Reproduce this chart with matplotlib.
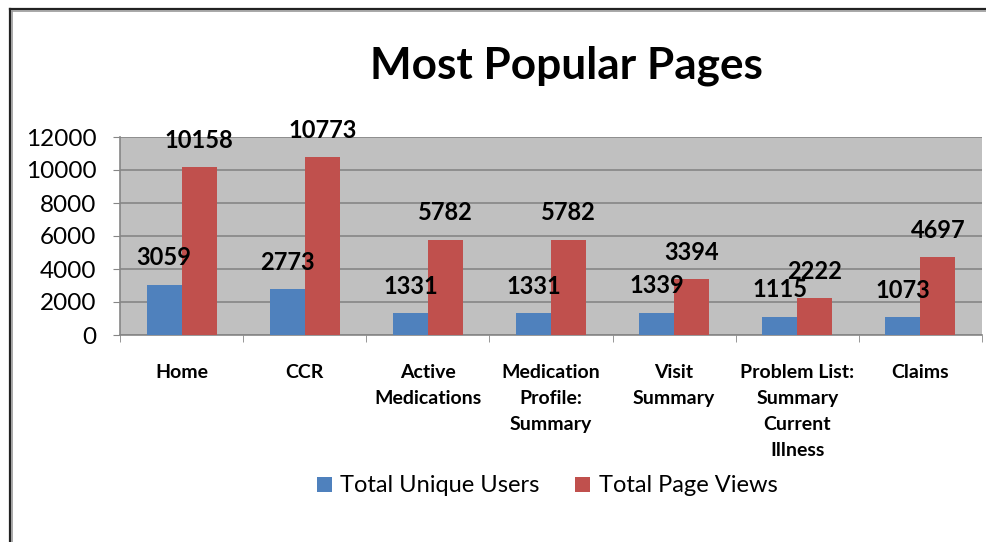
import matplotlib.pyplot as plt
import numpy as np
from matplotlib.lines import Line2D

# 데이터
pages = ['Home', 'CCR', 'Active\nMedications', 'Medication\nProfile:\nSummary',
         'Visit\nSummary', 'Problem List:\nSummary\nCurrent\nIllness', 'Claims']
unique_users = [3059, 2773, 1331, 1331, 1339, 1115, 1073]
page_views = [10158, 10773, 5782, 5782, 3394, 2222, 4697]
y_ticks = [0, 2000, 4000, 6000, 8000, 10000, 12000]

blue = '#4F81BD'
red = '#C0504D'
grid_c = '#868686'

plt.rcParams['font.family'] = ['Lato', 'DejaVu Sans']

fig = plt.figure(figsize=(9.87, 5.42), dpi=100)
ax = fig.add_axes([120 / 987, 1 - 335 / 542, 862 / 987, 198 / 542])
ax.set_facecolor('#C0C0C0')

x = np.arange(len(pages))
w = 0.284
b1 = ax.bar(x - w / 2, unique_users, w, color=blue, zorder=3)
b2 = ax.bar(x + w / 2, page_views, w, color=red, zorder=3)

# 막대 위 값 표시
for bars, vals in [(b1, unique_users), (b2, page_views)]:
    for rect, v in zip(bars, vals):
        ax.annotate(str(v), (rect.get_x() + rect.get_width() / 2, v),
                    xytext=(0, 14), textcoords='offset points',
                    ha='center', va='baseline', fontsize=17, fontweight='bold',
                    color='black', zorder=5)

ax.set_xlim(-0.5, len(pages) - 0.5)
ax.set_ylim(0, 12000)
ax.set_yticks(y_ticks)
ax.set_yticklabels([str(t) for t in y_ticks], fontsize=17.5)
ax.yaxis.grid(True, color=grid_c, linewidth=1.2, zorder=0)

ax.set_xticks(x)
ax.set_xticklabels(pages, fontsize=14, fontweight='bold', linespacing=1.63)
ax.set_xticks(np.arange(-0.5, len(pages), 1), minor=True)
ax.tick_params(axis='x', which='major', length=0, pad=21)
ax.tick_params(axis='x', which='minor', length=5, color=grid_c, direction='out')
ax.tick_params(axis='y', length=5, color=grid_c, pad=12)

for s in ['top', 'right']:
    ax.spines[s].set_visible(False)
for s in ['left', 'bottom']:
    ax.spines[s].set_color(grid_c)
    ax.spines[s].set_linewidth(1.2)

fig.text(566 / 987, 1 - 78 / 542, 'Most Popular Pages', ha='center', va='baseline',
         fontsize=31.8, fontweight='bold')

fig.legend([b1, b2], ['Total Unique Users', 'Total Page Views'],
           loc='center', bbox_to_anchor=(547 / 987, 1 - 486 / 542), ncol=2,
           frameon=False, fontsize=17, handlelength=0.65, handleheight=0.6,
           handletextpad=0.35, columnspacing=1.5)

# 바깥 테두리 (위, 왼쪽)
fig.add_artist(Line2D([9.5 / 987, 1], [1 - 8.5 / 542] * 2, color='#222222', lw=1.6))
fig.add_artist(Line2D([9.5 / 987] * 2, [0, 1 - 8.5 / 542], color='#222222', lw=1.6))
fig.add_artist(Line2D([11.5 / 987, 1], [1 - 10.5 / 542] * 2, color='#999999', lw=1.2))
fig.add_artist(Line2D([11.5 / 987] * 2, [0, 1 - 10.5 / 542], color='#999999', lw=1.2))

fig.savefig('out.png', dpi=100)
